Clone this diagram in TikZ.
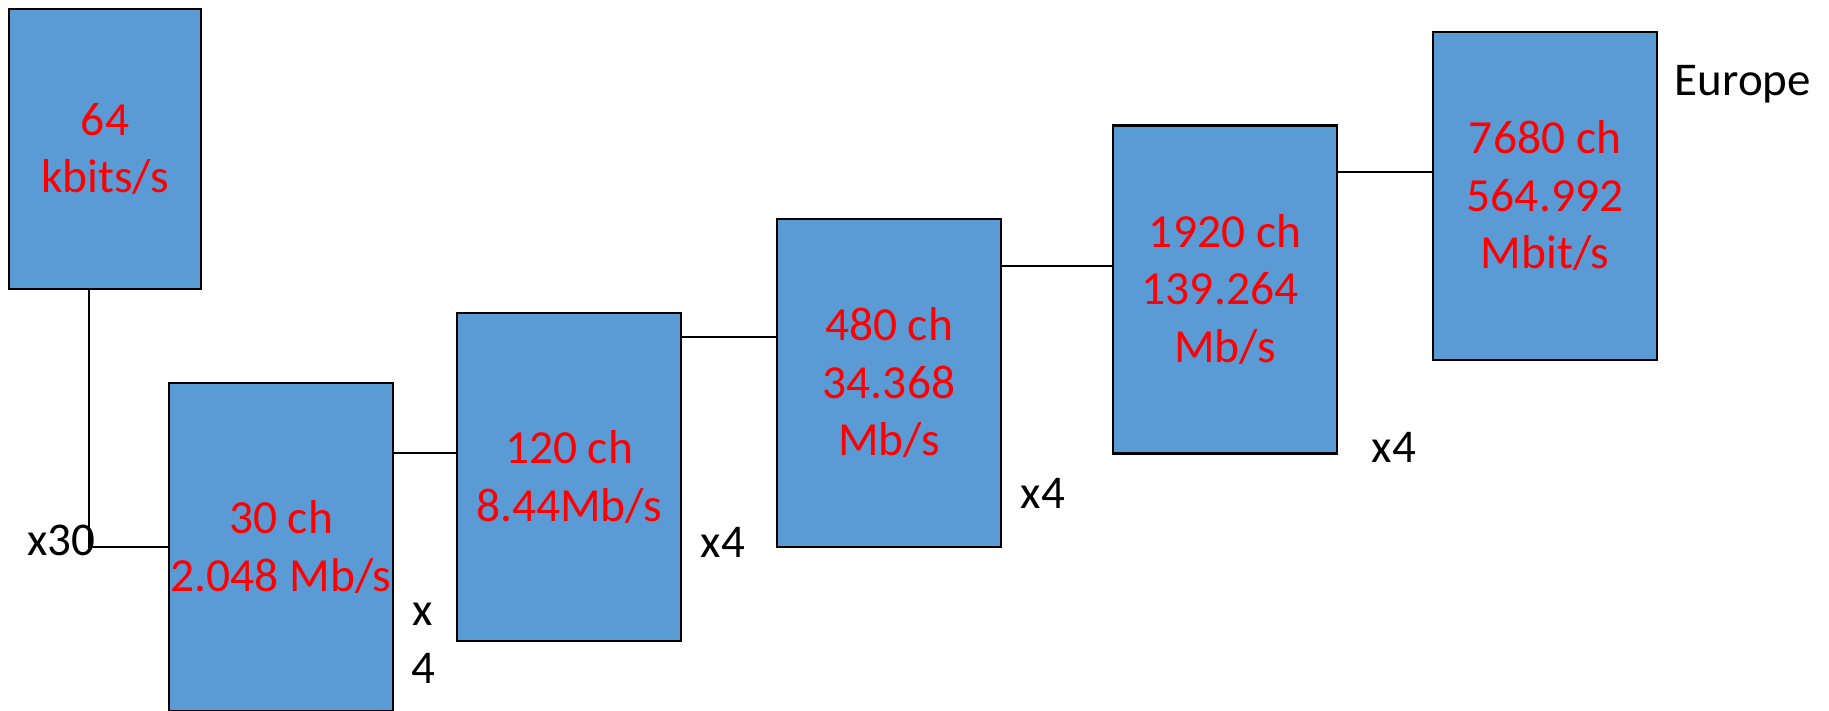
\documentclass[tikz,border=0pt]{standalone}
\usepackage{fontspec}
\setmainfont{Carlito}
\definecolor{boxblue}{HTML}{5B9BD5}
\definecolor{txtred}{HTML}{FF0000}
\begin{document}
\begin{tikzpicture}[x=1pt,y=-1pt,
  mux/.style={draw=black,line width=2.6pt,fill=boxblue,inner sep=0pt,
    text=txtred,align=center,minimum width=224pt,minimum height=328pt,
    font=\fontsize{47.5}{57.5}\selectfont},
  lbl/.style={anchor=base,inner sep=0pt,text=black,
    font=\fontsize{47}{58}\selectfont},
  wire/.style={draw=black,line width=1.8pt}]
\useasboundingbox (0,0) rectangle (1829,710);
\node[mux,minimum width=192pt,minimum height=280pt] (b1) at (105,149) {64\\kbits/s};
\node[mux] (b2) at (281,547) {30 ch\\2.048 Mb/s};
\node[mux] (b3) at (569,477) {120 ch\\8.44Mb/s};
\node[mux] (b4) at (889,383) {480 ch\\34.368\\Mb/s};
\node[mux] (b5) at (1225,289.5) {1920 ch\\139.264\kern10pt\\Mb/s};
\node[mux] (b6) at (1545,196) {7680 ch\\564.992\\Mbit/s};
\draw[wire] ([xshift=-16pt]b1.south) |- (b2.west);
\draw[wire] (b2.east |- 0,453) -- (b3.west |- 0,453);
\draw[wire] (b3.east |- 0,337) -- (b4.west |- 0,337);
\draw[wire] (b4.east |- 0,266) -- (b5.west |- 0,266);
\draw[wire] (b5.east |- 0,172) -- (b6.west |- 0,172);
\node[lbl] (l1) at (61.5,555) {x30};
\node[lbl,align=center] (l2) at (423,683) {x\\4};
\node[lbl] (l3) at (723,557) {x4};
\node[lbl] (l4) at (1043,508) {x4};
\node[lbl] (l5) at (1394,462) {x4};
\node[lbl] (l6) at (1743,95) {Europe};
\end{tikzpicture}
\end{document}
